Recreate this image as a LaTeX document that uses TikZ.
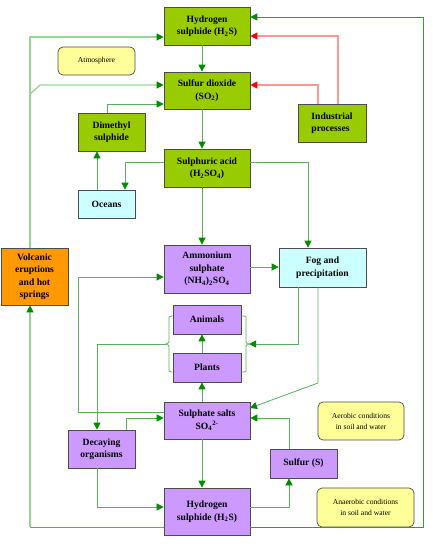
\documentclass[tikz,border=0pt]{standalone}
\usepackage{fontspec}
\setmainfont{Liberation Serif}
\usetikzlibrary{arrows.meta,shadows}
\definecolor{bgreen}{RGB}{153,204,0}
\definecolor{bpurple}{RGB}{204,153,255}
\definecolor{bcyan}{RGB}{204,255,255}
\definecolor{borange}{RGB}{255,153,0}
\definecolor{byellow}{RGB}{255,255,153}
\definecolor{lgreen}{RGB}{90,175,90}
\definecolor{pgreen}{RGB}{150,212,150}
\definecolor{dgreen}{RGB}{60,150,60}
\definecolor{agreen}{RGB}{0,140,0}
\definecolor{pinkline}{RGB}{255,150,150}
\definecolor{ared}{RGB}{255,0,0}
\begin{document}
\begin{tikzpicture}[x=1pt,y=-1pt,
  boxbase/.style={draw=black!70, line width=0.7pt, align=center, inner sep=1pt,
    drop shadow={shadow xshift=1pt,shadow yshift=-1pt,fill=black!45,opacity=1}},
  gbox/.style={boxbase, fill=bgreen, font=\bfseries\fontsize{9.6}{12.5}\selectfont},
  pbox/.style={boxbase, fill=bpurple, font=\bfseries\fontsize{9.6}{12.5}\selectfont},
  cbox/.style={boxbase, fill=bcyan, font=\bfseries\fontsize{9.6}{12.5}\selectfont},
  obox/.style={boxbase, fill=borange, font=\bfseries\fontsize{9.6}{12.5}\selectfont},
  ybox/.style={draw=black!70, line width=0.7pt, fill=byellow, rounded corners=5pt, align=center,
    inner sep=1pt, font=\fontsize{7.6}{11}\selectfont},
  ln/.style={draw=lgreen, line width=0.8pt},
  pln/.style={draw=pgreen, line width=1.3pt},
  dln/.style={draw=dgreen, line width=0.8pt},
  rln/.style={draw=pinkline, line width=1.1pt},
  garrow/.style={-{Triangle[length=7pt,width=7pt,color=agreen]}},
  rarrow/.style={-{Triangle[length=7pt,width=7pt,color=ared]}}
]
\useasboundingbox (0,0) rectangle (432,549);
\fill[white] (0,0) rectangle (432,549);

% boxes
\node[gbox, minimum width=86pt, minimum height=38pt] (h2st) at (207,26) {Hydrogen\\sulphide (H\textsubscript{2}S)};
\node[ybox, minimum width=77pt, minimum height=28pt] (atm) at (96.5,61) {Atmosphere};
\node[gbox, minimum width=86pt, minimum height=37pt] (so2) at (207,90.5) {Sulfur dioxide\\(SO\textsubscript{2})};
\node[gbox, minimum width=68pt, minimum height=38pt] (ind) at (332,123) {\begin{tabular}{@{}l@{}}Industrial\\processes\end{tabular}};
\node[gbox, minimum width=67pt, minimum height=38pt] (dms) at (111.5,132) {Dimethyl\\sulphide};
\node[gbox, minimum width=86pt, minimum height=38pt] (sa) at (207,168) {Sulphuric acid\\(H\textsubscript{2}SO\textsubscript{4})};
\node[cbox, minimum width=57pt, minimum height=28pt] (oc) at (106.5,204) {Oceans};
\node[pbox, minimum width=86pt, minimum height=48pt] (am) at (207,269) {Ammonium\\sulphate\\(NH\textsubscript{4})\textsubscript{2}SO\textsubscript{4}};
\node[cbox, minimum width=87pt, minimum height=39pt] (fog) at (322.5,267.5) {Fog and\\precipitation};
\node[obox, minimum width=67pt, minimum height=57pt] (vol) at (34.5,276.5) {Volcanic\\eruptions\\and hot\\springs};
\node[pbox, minimum width=68pt, minimum height=29pt] (ani) at (207,319.5) {Animals};
\node[pbox, minimum width=68pt, minimum height=29pt] (pla) at (207,367.5) {Plants};
\node[pbox, minimum width=86pt, minimum height=37pt] (sul) at (207,420.5) {Sulphate salts\\SO\textsubscript{4}\textsuperscript{2-}};
\node[ybox, minimum width=86pt, minimum height=38pt] (aer) at (361,421) {Aerobic conditions\\in soil and water};
\node[pbox, minimum width=67pt, minimum height=38pt] (dec) at (101.5,449) {Decaying\\organisms};
\node[pbox, minimum width=67pt, minimum height=29pt] (sf) at (303.5,463.5) {Sulfur (S)};
\node[pbox, minimum width=86pt, minimum height=47pt] (h2sb) at (207,511.5) {Hydrogen\\sulphide (H\textsubscript{2}S)};
\node[ybox, minimum width=97pt, minimum height=39pt] (ana) at (365.5,507.5) {Anaerobic conditions\\in soil and water};

% helper coordinates
\coordinate (cx) at (202,0);
\coordinate (rb) at (423,527);
\coordinate (rt) at (423,17);
\coordinate (lb) at (30,527);
\coordinate (lt) at (30,37);
\coordinate (lm) at (30,94);
\coordinate (lm2) at (40,85);
\coordinate (r1) at (338,36);
\coordinate (r2) at (318,85);
\coordinate (o1) at (125,162);
\coordinate (o2) at (308,162);
\coordinate (o3) at (97,0);
\coordinate (o4) at (107,104);
\coordinate (o5) at (0,267);
\coordinate (o6) at (78,412);
\coordinate (o7) at (78,277);
\coordinate (o8) at (126,418);
\coordinate (o9) at (289,418);
\coordinate (o10) at (97,507);
\coordinate (o11) at (289,507);
\coordinate (lbt) at (166,344);
\coordinate (dk) at (97,344);
\coordinate (rbt) at (249,344);
\coordinate (f1) at (298,344);
\coordinate (f2) at (318,383);
\coordinate (f3) at (250,408);

% main vertical chain
\draw[ln,garrow] (h2st.south -| cx) -- (so2.north -| cx);
\draw[ln,garrow] (so2.south -| cx) -- (sa.north -| cx);
\draw[ln,garrow] (sa.south -| cx) -- (am.north -| cx);
\draw[ln,garrow] (pla.north -| cx) -- (ani.south -| cx);
\draw[ln,garrow] (sul.north -| cx) -- (pla.south -| cx);
\draw[ln,garrow] (sul.south -| cx) -- (h2sb.north -| cx);

% outer loops
\draw[dln,garrow] (h2sb.east |- rb) -- (rb) -- (rt) -- (h2st.east |- rt);
\draw[ln] (h2sb.west |- lb) -- (lb);
\draw[pln,garrow] (lb) -- (vol.south -| lb);
\draw[pln,garrow] (vol.north -| lt) -- (lt) -- (h2st.west |- lt);
\draw[pln,garrow] (lm) -- (lm2) -- (so2.west |- lm2);

% industrial (red)
\draw[rln,rarrow] (ind.north -| r1) -- (r1) -- (h2st.east |- r1);
\draw[rln,rarrow] (ind.north -| r2) -- (r2) -- (so2.east |- r2);

% atmosphere connectors
\draw[ln,garrow] (sa.west |- o1) -- (o1) -- (oc.north -| o1);
\draw[ln,garrow] (sa.east |- o2) -- (o2) -- (fog.north -| o2);
\draw[ln,garrow] (oc.north -| o3) -- (dms.south -| o3);
\draw[ln,garrow] (dms.north -| o4) -- (o4) -- (so2.west |- o4);
\draw[ln,garrow] (am.east |- o5) -- (fog.west |- o5);

% soil connectors
\draw[ln,garrow] (sul.west |- o6) -- (o6) -- (o7) -- (am.west |- o7);
\draw[ln,garrow] (dec.north -| o8) -- (o8) -- (sul.west |- o8);
\draw[ln,garrow] (sf.north -| o9) -- (o9) -- (sul.east |- o9);
\draw[ln,garrow] (dec.south -| o10) -- (o10) -- (h2sb.west |- o10);
\draw[ln,garrow] (h2sb.east |- o11) -- (o11) -- (sf.south -| o11);

% braces
\draw[ln] (ani.west |- 0,316) -- (172,316) .. controls (169,316) .. (169,320) -- (169,339)
  .. controls (169,343) .. (lbt) .. controls (169,345) .. (169,349) -- (169,368)
  .. controls (169,372) .. (172,372) -- (pla.west |- 0,372);
\draw[ln] (ani.east |- 0,316) -- (242,316) .. controls (246,316) .. (246,320) -- (246,339)
  .. controls (246,343) .. (rbt) .. controls (246,345) .. (246,349) -- (246,368)
  .. controls (246,372) .. (242,372) -- (pla.east |- 0,372);
\draw[ln,garrow] (lbt) -- (dk) -- (dec.north -| dk);
\draw[ln,garrow] (fog.south -| f1) -- (f1) -- (rbt);
\draw[ln,garrow] (fog.south -| f2) -- (f2) -- (f3);
\end{tikzpicture}
\end{document}
